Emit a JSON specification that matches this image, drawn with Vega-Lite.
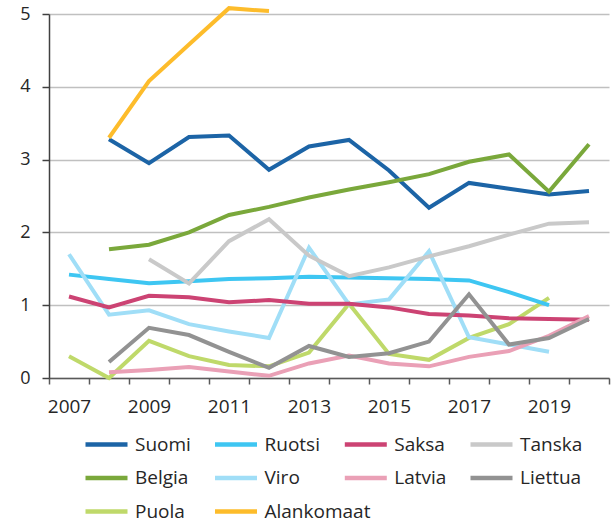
{
  "$schema": "https://vega.github.io/schema/vega-lite/v6.json",
  "autosize": {"type": "none"},
  "width": 560,
  "height": 364,
  "padding": {"left": 49, "top": 14, "right": 5, "bottom": 148},
  "background": "white",
  "config": {
    "view": {"stroke": null},
    "font": "Open Sans",
    "axis": {"labelFont": "Open Sans", "labelColor": "#262626", "title": null},
    "legend": {
      "title": null,
      "orient": "none",
      "direction": "vertical",
      "rowPadding": 10.5,
      "symbolType": "M-2.1,0H2.1",
      "symbolSize": 400,
      "symbolStrokeWidth": 4.5,
      "labelFont": "Open Sans",
      "labelFontSize": 19,
      "labelColor": "#262626",
      "labelOffset": 16,
      "labelLimit": 200
    }
  },
  "data": {
    "values": [
      {"maa": "Suomi", "vuosi": 2008, "arvo": 3.28},
      {"maa": "Suomi", "vuosi": 2009, "arvo": 2.95},
      {"maa": "Suomi", "vuosi": 2010, "arvo": 3.31},
      {"maa": "Suomi", "vuosi": 2011, "arvo": 3.33},
      {"maa": "Suomi", "vuosi": 2012, "arvo": 2.86},
      {"maa": "Suomi", "vuosi": 2013, "arvo": 3.18},
      {"maa": "Suomi", "vuosi": 2014, "arvo": 3.27},
      {"maa": "Suomi", "vuosi": 2015, "arvo": 2.85},
      {"maa": "Suomi", "vuosi": 2016, "arvo": 2.34},
      {"maa": "Suomi", "vuosi": 2017, "arvo": 2.68},
      {"maa": "Suomi", "vuosi": 2018, "arvo": 2.6},
      {"maa": "Suomi", "vuosi": 2019, "arvo": 2.52},
      {"maa": "Suomi", "vuosi": 2020, "arvo": 2.57},
      {"maa": "Ruotsi", "vuosi": 2007, "arvo": 1.42},
      {"maa": "Ruotsi", "vuosi": 2008, "arvo": 1.36},
      {"maa": "Ruotsi", "vuosi": 2009, "arvo": 1.3},
      {"maa": "Ruotsi", "vuosi": 2010, "arvo": 1.33},
      {"maa": "Ruotsi", "vuosi": 2011, "arvo": 1.36},
      {"maa": "Ruotsi", "vuosi": 2012, "arvo": 1.37},
      {"maa": "Ruotsi", "vuosi": 2013, "arvo": 1.39},
      {"maa": "Ruotsi", "vuosi": 2014, "arvo": 1.38},
      {"maa": "Ruotsi", "vuosi": 2015, "arvo": 1.37},
      {"maa": "Ruotsi", "vuosi": 2016, "arvo": 1.36},
      {"maa": "Ruotsi", "vuosi": 2017, "arvo": 1.34},
      {"maa": "Ruotsi", "vuosi": 2018, "arvo": 1.18},
      {"maa": "Ruotsi", "vuosi": 2019, "arvo": 1.0},
      {"maa": "Saksa", "vuosi": 2007, "arvo": 1.12},
      {"maa": "Saksa", "vuosi": 2008, "arvo": 0.97},
      {"maa": "Saksa", "vuosi": 2009, "arvo": 1.13},
      {"maa": "Saksa", "vuosi": 2010, "arvo": 1.11},
      {"maa": "Saksa", "vuosi": 2011, "arvo": 1.04},
      {"maa": "Saksa", "vuosi": 2012, "arvo": 1.07},
      {"maa": "Saksa", "vuosi": 2013, "arvo": 1.02},
      {"maa": "Saksa", "vuosi": 2014, "arvo": 1.02},
      {"maa": "Saksa", "vuosi": 2015, "arvo": 0.97},
      {"maa": "Saksa", "vuosi": 2016, "arvo": 0.88},
      {"maa": "Saksa", "vuosi": 2017, "arvo": 0.86},
      {"maa": "Saksa", "vuosi": 2018, "arvo": 0.82},
      {"maa": "Saksa", "vuosi": 2019, "arvo": 0.81},
      {"maa": "Saksa", "vuosi": 2020, "arvo": 0.8},
      {"maa": "Tanska", "vuosi": 2009, "arvo": 1.63},
      {"maa": "Tanska", "vuosi": 2010, "arvo": 1.3},
      {"maa": "Tanska", "vuosi": 2011, "arvo": 1.88},
      {"maa": "Tanska", "vuosi": 2012, "arvo": 2.18},
      {"maa": "Tanska", "vuosi": 2013, "arvo": 1.68},
      {"maa": "Tanska", "vuosi": 2014, "arvo": 1.4},
      {"maa": "Tanska", "vuosi": 2015, "arvo": 1.52},
      {"maa": "Tanska", "vuosi": 2016, "arvo": 1.67},
      {"maa": "Tanska", "vuosi": 2017, "arvo": 1.81},
      {"maa": "Tanska", "vuosi": 2018, "arvo": 1.97},
      {"maa": "Tanska", "vuosi": 2019, "arvo": 2.12},
      {"maa": "Tanska", "vuosi": 2020, "arvo": 2.14},
      {"maa": "Belgia", "vuosi": 2008, "arvo": 1.77},
      {"maa": "Belgia", "vuosi": 2009, "arvo": 1.83},
      {"maa": "Belgia", "vuosi": 2010, "arvo": 2.0},
      {"maa": "Belgia", "vuosi": 2011, "arvo": 2.24},
      {"maa": "Belgia", "vuosi": 2012, "arvo": 2.35},
      {"maa": "Belgia", "vuosi": 2013, "arvo": 2.48},
      {"maa": "Belgia", "vuosi": 2014, "arvo": 2.59},
      {"maa": "Belgia", "vuosi": 2015, "arvo": 2.69},
      {"maa": "Belgia", "vuosi": 2016, "arvo": 2.8},
      {"maa": "Belgia", "vuosi": 2017, "arvo": 2.97},
      {"maa": "Belgia", "vuosi": 2018, "arvo": 3.07},
      {"maa": "Belgia", "vuosi": 2019, "arvo": 2.56},
      {"maa": "Belgia", "vuosi": 2020, "arvo": 3.21},
      {"maa": "Viro", "vuosi": 2007, "arvo": 1.7},
      {"maa": "Viro", "vuosi": 2008, "arvo": 0.87},
      {"maa": "Viro", "vuosi": 2009, "arvo": 0.93},
      {"maa": "Viro", "vuosi": 2010, "arvo": 0.74},
      {"maa": "Viro", "vuosi": 2011, "arvo": 0.64},
      {"maa": "Viro", "vuosi": 2012, "arvo": 0.55},
      {"maa": "Viro", "vuosi": 2013, "arvo": 1.79},
      {"maa": "Viro", "vuosi": 2014, "arvo": 1.01},
      {"maa": "Viro", "vuosi": 2015, "arvo": 1.08},
      {"maa": "Viro", "vuosi": 2016, "arvo": 1.74},
      {"maa": "Viro", "vuosi": 2017, "arvo": 0.56},
      {"maa": "Viro", "vuosi": 2018, "arvo": 0.46},
      {"maa": "Viro", "vuosi": 2019, "arvo": 0.36},
      {"maa": "Latvia", "vuosi": 2008, "arvo": 0.08},
      {"maa": "Latvia", "vuosi": 2009, "arvo": 0.11},
      {"maa": "Latvia", "vuosi": 2010, "arvo": 0.15},
      {"maa": "Latvia", "vuosi": 2011, "arvo": 0.09},
      {"maa": "Latvia", "vuosi": 2012, "arvo": 0.03},
      {"maa": "Latvia", "vuosi": 2013, "arvo": 0.2},
      {"maa": "Latvia", "vuosi": 2014, "arvo": 0.31},
      {"maa": "Latvia", "vuosi": 2015, "arvo": 0.2},
      {"maa": "Latvia", "vuosi": 2016, "arvo": 0.16},
      {"maa": "Latvia", "vuosi": 2017, "arvo": 0.29},
      {"maa": "Latvia", "vuosi": 2018, "arvo": 0.37},
      {"maa": "Latvia", "vuosi": 2019, "arvo": 0.58},
      {"maa": "Latvia", "vuosi": 2020, "arvo": 0.85},
      {"maa": "Liettua", "vuosi": 2008, "arvo": 0.22},
      {"maa": "Liettua", "vuosi": 2009, "arvo": 0.69},
      {"maa": "Liettua", "vuosi": 2010, "arvo": 0.59},
      {"maa": "Liettua", "vuosi": 2011, "arvo": 0.36},
      {"maa": "Liettua", "vuosi": 2012, "arvo": 0.14},
      {"maa": "Liettua", "vuosi": 2013, "arvo": 0.44},
      {"maa": "Liettua", "vuosi": 2014, "arvo": 0.29},
      {"maa": "Liettua", "vuosi": 2015, "arvo": 0.34},
      {"maa": "Liettua", "vuosi": 2016, "arvo": 0.5},
      {"maa": "Liettua", "vuosi": 2017, "arvo": 1.15},
      {"maa": "Liettua", "vuosi": 2018, "arvo": 0.46},
      {"maa": "Liettua", "vuosi": 2019, "arvo": 0.55},
      {"maa": "Liettua", "vuosi": 2020, "arvo": 0.81},
      {"maa": "Puola", "vuosi": 2007, "arvo": 0.3},
      {"maa": "Puola", "vuosi": 2008, "arvo": 0.0},
      {"maa": "Puola", "vuosi": 2009, "arvo": 0.51},
      {"maa": "Puola", "vuosi": 2010, "arvo": 0.3},
      {"maa": "Puola", "vuosi": 2011, "arvo": 0.18},
      {"maa": "Puola", "vuosi": 2012, "arvo": 0.16},
      {"maa": "Puola", "vuosi": 2013, "arvo": 0.35},
      {"maa": "Puola", "vuosi": 2014, "arvo": 1.02},
      {"maa": "Puola", "vuosi": 2015, "arvo": 0.33},
      {"maa": "Puola", "vuosi": 2016, "arvo": 0.25},
      {"maa": "Puola", "vuosi": 2017, "arvo": 0.55},
      {"maa": "Puola", "vuosi": 2018, "arvo": 0.74},
      {"maa": "Puola", "vuosi": 2019, "arvo": 1.1},
      {"maa": "Alankomaat", "vuosi": 2008, "arvo": 3.3},
      {"maa": "Alankomaat", "vuosi": 2009, "arvo": 4.08},
      {"maa": "Alankomaat", "vuosi": 2010, "arvo": 4.58},
      {"maa": "Alankomaat", "vuosi": 2011, "arvo": 5.08},
      {"maa": "Alankomaat", "vuosi": 2012, "arvo": 5.04}
    ]
  },
  "encoding": {
    "x": {
      "field": "vuosi",
      "type": "ordinal",
      "scale": {"type": "band", "domain": [2007, 2008, 2009, 2010, 2011, 2012, 2013, 2014, 2015, 2016, 2017, 2018, 2019, 2020], "paddingInner": 0, "paddingOuter": 0},
      "axis": {
        "labelAngle": 0,
        "tickBand": "extent",
        "labelExpr": "datum.value % 2 == 1 ? datum.label : ''",
        "labelOverlap": false,
        "labelFontSize": 19,
        "labelPadding": 13,
        "tickSize": 6,
        "tickColor": "#595959",
        "domainColor": "#595959",
        "domainWidth": 1.5,
        "tickWidth": 1.5,
        "grid": false
      }
    },
    "y": {
      "field": "arvo",
      "type": "quantitative",
      "scale": {"domain": [0, 5], "nice": false, "zero": true},
      "axis": {
        "values": [0, 1, 2, 3, 4, 5],
        "labelFontSize": 18,
        "labelPadding": 12,
        "tickSize": 7,
        "tickColor": "#404040",
        "domainColor": "#404040",
        "domainWidth": 1.5,
        "tickWidth": 1.5,
        "grid": true,
        "gridColor": "#c0c0c0",
        "gridWidth": 1.3
      }
    }
  },
  "resolve": {"scale": {"color": "independent"}, "legend": {"color": "independent"}},
  "layer": [
    {
      "transform": [{"filter": {"field": "maa", "oneOf": ["Suomi", "Belgia", "Puola"]}}],
      "mark": {"type": "line", "strokeWidth": 4, "strokeJoin": "miter", "strokeCap": "butt"},
      "encoding": {
        "color": {
          "field": "maa",
          "type": "nominal",
          "scale": {"domain": ["Suomi", "Belgia", "Puola"], "range": ["#1c64a6", "#7aa83b", "#bfd96a"]},
          "legend": {"legendX": 45, "legendY": 418}
        }
      }
    },
    {
      "transform": [{"filter": {"field": "maa", "oneOf": ["Ruotsi", "Viro", "Alankomaat"]}}],
      "mark": {"type": "line", "strokeWidth": 4, "strokeJoin": "miter", "strokeCap": "butt"},
      "encoding": {
        "color": {
          "field": "maa",
          "type": "nominal",
          "scale": {"domain": ["Ruotsi", "Viro", "Alankomaat"], "range": ["#3ec6f2", "#a0def7", "#fdbc2b"]},
          "legend": {"legendX": 174.5, "legendY": 418}
        }
      }
    },
    {
      "transform": [{"filter": {"field": "maa", "oneOf": ["Saksa", "Latvia"]}}],
      "mark": {"type": "line", "strokeWidth": 4, "strokeJoin": "miter", "strokeCap": "butt"},
      "encoding": {
        "color": {
          "field": "maa",
          "type": "nominal",
          "scale": {"domain": ["Saksa", "Latvia"], "range": ["#cc4373", "#eaa0b6"]},
          "legend": {"legendX": 304.3, "legendY": 418}
        }
      }
    },
    {
      "transform": [{"filter": {"field": "maa", "oneOf": ["Tanska", "Liettua"]}}],
      "mark": {"type": "line", "strokeWidth": 4, "strokeJoin": "miter", "strokeCap": "butt"},
      "encoding": {
        "color": {
          "field": "maa",
          "type": "nominal",
          "scale": {"domain": ["Tanska", "Liettua"], "range": ["#c9c9c9", "#929292"]},
          "legend": {"legendX": 430, "legendY": 418}
        }
      }
    }
  ]
}
